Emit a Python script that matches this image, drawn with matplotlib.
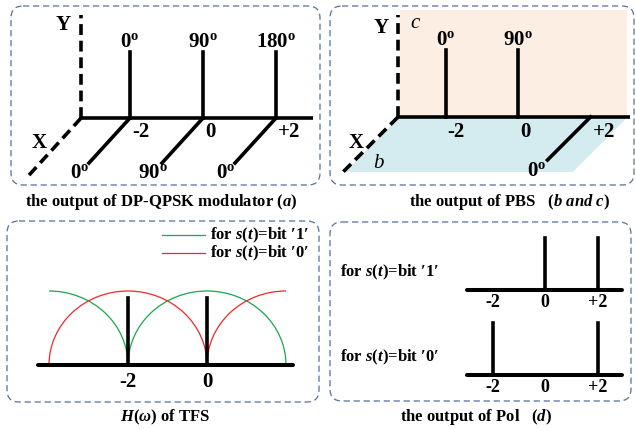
import numpy as np
import matplotlib
matplotlib.use("Agg")
import matplotlib.pyplot as plt
from matplotlib.transforms import Affine2D
from matplotlib.patches import FancyBboxPatch, Rectangle, Polygon, Arc

plt.rcParams['font.family'] = ['Liberation Serif', 'DejaVu Serif']
plt.rcParams['font.weight'] = 'bold'
plt.rcParams['mathtext.fontset'] = 'custom'
plt.rcParams['mathtext.rm'] = 'Liberation Serif:bold'
plt.rcParams['mathtext.bf'] = 'Liberation Serif:bold'
plt.rcParams['mathtext.it'] = 'Liberation Serif:italic:bold'

# ---------------- data ----------------
# panel (a): DP-QPSK modulator output
a_freqs = [-2, 0, 2]
a_y_phase = ['0', '90', '180']
a_x_phase = ['0', '90', '0']
a_freq_labels = ['-2', '0', '+2']

# panel (b/c): PBS output
b_y_freqs = [-2, 0]
b_y_phase = ['0', '90']
b_x_freqs = [2]
b_x_phase = ['0']
b_freq_ticks = [-2, 0, 2]
b_freq_labels = ['-2', '0', '+2']

# panel TFS
tfs_stems = [-2, 0]
tfs_stem_height = 0.9
tfs_labels = ['-2', '0']
green_arcs = [(-4, 0, 90), (0, 0, 180)]     # (centre, theta1, theta2)
red_arcs = [(-2, 0, 180), (2, 90, 180)]

# panel (d): Pol output
d_ticks = [-2, 0, 2]
d_labels = ['-2', '0', '+2']
d_bit1 = [0, 2]
d_bit0 = [-2, 2]

BLK = 'black'
GREEN = '#1aa64a'
RED = '#f02828'
BOXC = '#5570a0'
PINK = '#fdeee4'
BLUE = '#d4ebef'

fig = plt.figure(figsize=(6.36, 4.30), dpi=100)
ax = fig.add_axes([0, 0, 1, 1])
ax.set_xlim(0, 636)
ax.set_ylim(430, 0)
ax.axis('off')


def plane(x0, y0, sx, sy):
    return Affine2D().scale(sx, -sy).translate(x0, y0) + ax.transData


def oblique(x0, y0, sx, dx, dy):
    return Affine2D(np.array([[sx, dx, x0], [0, dy, y0], [0, 0, 1.0]])) + ax.transData


def box(x, y, w, h):
    p = FancyBboxPatch((x, y), w, h, boxstyle="round,pad=0,rounding_size=12",
                       fill=False, ec=BOXC, lw=0.9, ls=(0, (5, 3)))
    ax.add_patch(p)


STEM_LW = 2.6
DASH = (0, (3, 1.6))
LBL = 15
CAP = 12

box(11, 6, 309, 179)
box(330, 6, 304, 179)
box(7, 221, 312, 181)
box(330, 222, 301, 179)

# ---------------- panel (a) ----------------
Ta = plane(203, 118, 36.5, 66)
Oa = oblique(203, 118, 36.5, -41, 45)
f0 = -3.34
ax.plot([f0, f0], [0, 1.56], color=BLK, lw=STEM_LW, ls=DASH, transform=Ta)
ax.plot([f0, 3.0], [0, 0], color=BLK, lw=STEM_LW, transform=Ta, solid_capstyle='butt')
ax.plot([f0, f0], [0, 1.27], color=BLK, lw=STEM_LW, ls=DASH, transform=Oa)
for f, ph, xph, lab in zip(a_freqs, a_y_phase, a_x_phase, a_freq_labels):
    ax.plot([f, f], [0, 1], color=BLK, lw=STEM_LW, transform=Ta)
    ax.plot([f, f], [0, 1], color=BLK, lw=STEM_LW, transform=Oa)
    ax.text(f, 1.15, r'$\mathrm{%s^{o}}$' % ph, transform=Ta, ha='center', va='center', fontsize=LBL)
    ax.text(f, 1.22, r'$\mathrm{%s^{o}}$' % xph, transform=Oa, ha='center', va='center', fontsize=LBL)
    ax.text(f + 0.06, -0.21, lab, transform=Ta, ha='left', va='center', fontsize=LBL)
ax.text(63, 25, 'Y', ha='center', va='center', fontsize=LBL)
ax.text(39, 143, 'X', ha='center', va='center', fontsize=LBL)
ax.text(161, 202, r'the output of DP-QPSK modulator ($a$)', ha='center', va='center', fontsize=CAP)

# ---------------- panel (b/c) ----------------
Tb = plane(518, 117, 36.25, 67)
Ob = oblique(518, 117, 36.25, -43, 43)
fb0, fb1 = -3.26, 3.03
ax.add_patch(Rectangle((fb0, 0), fb1 - fb0 - 0.03, 1.6, transform=Tb, fc=PINK, ec='none', zorder=0))
ax.add_patch(Polygon([(fb0, 0), (fb1, 0), (fb1, 1.28), (fb0, 1.28)], closed=True,
                     transform=Ob, fc=BLUE, ec='none', zorder=0))
ax.plot([-3.31, -3.31], [0, 1.52], color=BLK, lw=STEM_LW, ls=DASH, transform=Tb)
ax.plot([-3.31, 3.09], [0, 0], color=BLK, lw=STEM_LW, transform=Tb, solid_capstyle='butt')
ax.plot([-3.31, -3.31], [0, 1.28], color=BLK, lw=STEM_LW, ls=DASH, transform=Ob)
for f, ph in zip(b_y_freqs, b_y_phase):
    ax.plot([f, f], [0, 1], color=BLK, lw=STEM_LW, transform=Tb)
    ax.text(f, 1.15, r'$\mathrm{%s^{o}}$' % ph, transform=Tb, ha='center', va='center', fontsize=LBL)
for f, ph in zip(b_x_freqs, b_x_phase):
    ax.plot([f, f], [0, 1], color=BLK, lw=STEM_LW, transform=Ob)
    ax.text(f, 1.25, r'$\mathrm{%s^{o}}$' % ph, transform=Ob, ha='center', va='center', fontsize=LBL)
for f, lab in zip(b_freq_ticks, b_freq_labels):
    ax.text(f + 0.06, -0.22, lab, transform=Tb, ha='left', va='center', fontsize=LBL)
ax.text(381, 28, 'Y', ha='center', va='center', fontsize=LBL)
ax.text(356, 143, 'X', ha='center', va='center', fontsize=LBL)
ax.text(415, 23, 'c', ha='center', va='center', fontsize=LBL, style='italic', weight='normal')
ax.text(378, 163, 'b', ha='center', va='center', fontsize=LBL, style='italic', weight='normal')
ax.text(510, 202, r'the output of PBS   ($b\ and\ c$)', ha='center', va='center', fontsize=CAP)

# ---------------- panel TFS ----------------
Tc = plane(207, 365, 39.5, 74)
for c, t1, t2 in green_arcs:
    ax.add_patch(Arc((c, 0), 4, 2, theta1=t1, theta2=t2, transform=Tc, color=GREEN, lw=0.9))
for c, t1, t2 in red_arcs:
    ax.add_patch(Arc((c, 0), 4, 2, theta1=t1, theta2=t2, transform=Tc, color=RED, lw=0.9))
ax.plot([-4.28, 2.18], [0, 0], color=BLK, lw=STEM_LW + 0.3, transform=Tc, solid_capstyle='round')
for f, lab in zip(tfs_stems, tfs_labels):
    ax.plot([f, f], [0, tfs_stem_height], color=BLK, lw=STEM_LW, transform=Tc)
    ax.text(f, -0.23, lab, transform=Tc, ha='center', va='center', fontsize=LBL)
ax.plot([162, 205], [235, 235], color=GREEN, lw=0.9)
ax.plot([162, 205], [253, 253], color=RED, lw=0.9)
ax.text(210, 235, r"for $s$($t$)=bit ′1′", ha='left', va='center', fontsize=CAP)
ax.text(210, 253, r"for $s$($t$)=bit ′0′", ha='left', va='center', fontsize=CAP)
ax.text(165, 417, r'$H$($\omega$) of TFS', ha='center', va='center', fontsize=CAP)

# ---------------- panel (d) ----------------
for y0, stems, txt in [(290, d_bit1, r"for $s$($t$)=bit ′1′"), (375, d_bit0, r"for $s$($t$)=bit ′0′")]:
    Td = plane(545, y0, 26.25, 52)
    ax.plot([-2.98, 2.93], [0, 0], color=BLK, lw=STEM_LW + 0.3, transform=Td, solid_capstyle='round')
    for f in stems:
        ax.plot([f, f], [0, 1], color=BLK, lw=STEM_LW, transform=Td)
    for f, lab in zip(d_ticks, d_labels):
        ax.text(f, -0.24, lab, transform=Td, ha='center', va='center', fontsize=13)
    ax.text(340, y0 - 18, txt, ha='left', va='center', fontsize=CAP)
ax.text(476, 417, r'the output of Pol   ($d$)', ha='center', va='center', fontsize=CAP)

fig.savefig('out.png', dpi=100)
